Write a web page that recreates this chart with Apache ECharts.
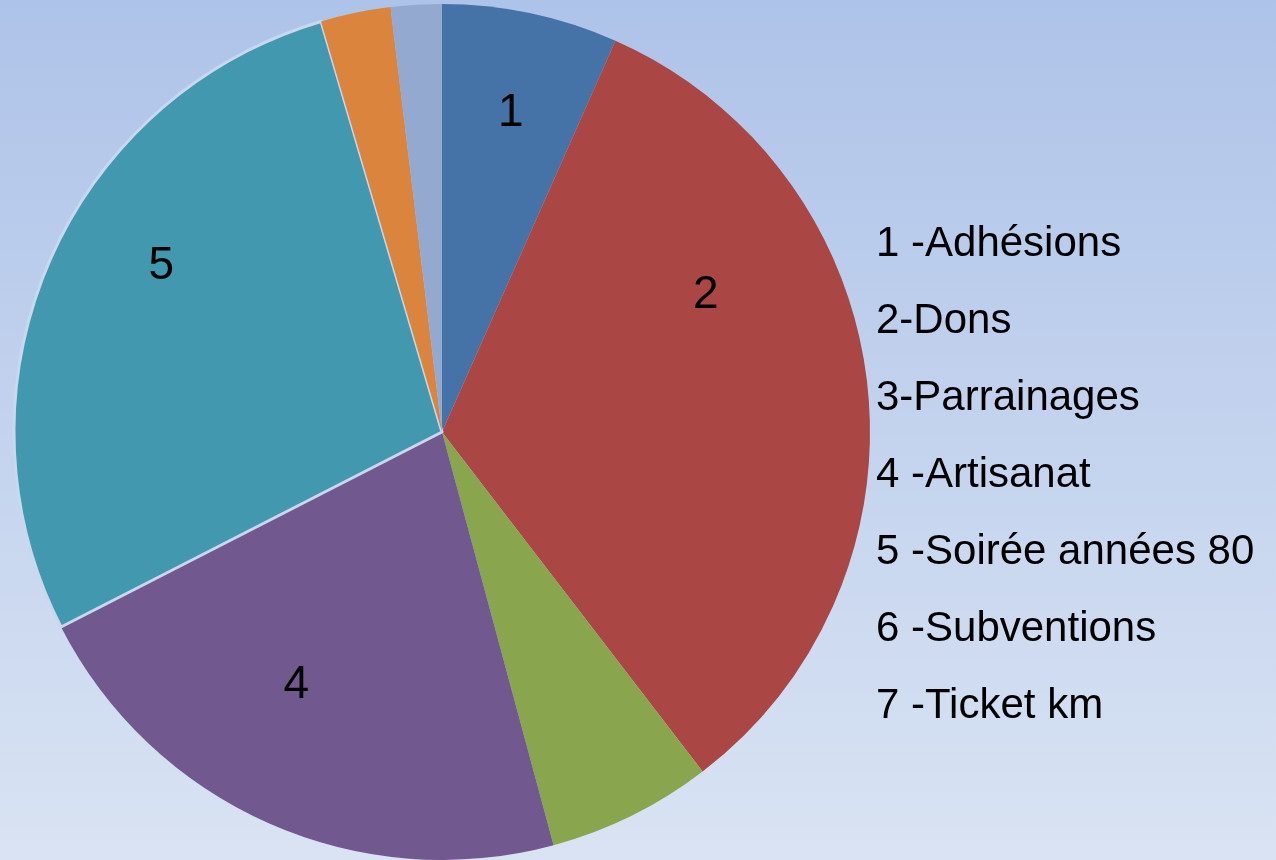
<!DOCTYPE html>
<html>
<head>
<meta charset="utf-8">
<script src="https://cdn.jsdelivr.net/npm/echarts@6/dist/echarts.min.js"></script>
<style>
  html, body { margin: 0; padding: 0; }
  #chart { width: 1276px; height: 860px; }
</style>
</head>
<body>
<div id="chart"></div>
<script>
// parts of the pie (percent)
const categories = [
  "1 -Adhésions",
  "2-Dons",
  "3-Parrainages",
  "4 -Artisanat",
  "5 -Soirée années 80",
  "6 -Subventions",
  "7 -Ticket km",
];
const values = [6.64, 32.94, 6.22, 21.67, 27.97, 2.64, 1.92];
const sliceLabels = ["1", "2", "", "4", "5", "", ""];
const colors = ["#4573a7", "#aa4644", "#89a54e", "#71588f", "#4198af", "#db843d", "#93a9cf"];
// small nudges so the numbers sit where the original put them
const labelNudge = [[4, -12], [-47, -100], [0, 0], [-19, -33], [7, -42], [0, 0], [0, 0]];

const FONT = "Liberation Sans, Arial, sans-serif";
const chart = echarts.init(document.getElementById("chart"));

const pieData = categories.map((name, i) => ({
  name: name,
  value: values[i],
  itemStyle: i === 4 ? { borderColor: "#c9d7ef", borderWidth: 3 } : {},
}));

chart.setOption({
  backgroundColor: new echarts.graphic.LinearGradient(0, 0, 0, 1, [
    { offset: 0, color: "#aec3e9" },
    { offset: 1, color: "#d9e3f3" },
  ]),
  color: colors,
  textStyle: { fontFamily: FONT },
  animation: false,
  legend: {
    orient: "vertical",
    left: 870,
    top: 223,
    padding: 0,
    itemWidth: 0,
    itemHeight: 0,
    itemGap: 35,
    icon: "rect",
    selectedMode: false,
    data: categories,
    textStyle: {
      fontSize: 42,
      lineHeight: 42,
      color: "#000",
      fontFamily: FONT,
    },
  },
  series: [
    {
      type: "pie",
      center: [442, 432],
      radius: [0, 428],
      startAngle: 90,
      clockwise: true,
      silent: true,
      label: { show: false },
      labelLine: { show: false },
      data: pieData,
    },
    {
      // transparent ring, only used to place the slice numbers
      type: "pie",
      center: [442, 432],
      radius: [200, 420],
      startAngle: 90,
      clockwise: true,
      silent: true,
      legendHoverLink: false,
      itemStyle: { color: "rgba(0,0,0,0)" },
      label: {
        show: true,
        position: "inside",
        fontSize: 46,
        color: "#000",
        fontFamily: FONT,
        formatter: (p) => sliceLabels[p.dataIndex],
      },
      labelLine: { show: false },
      data: values.map((v, i) => ({
        name: "lbl" + i,
        value: v,
        label: { offset: labelNudge[i] },
      })),
    },
  ],
});
</script>
</body>
</html>
